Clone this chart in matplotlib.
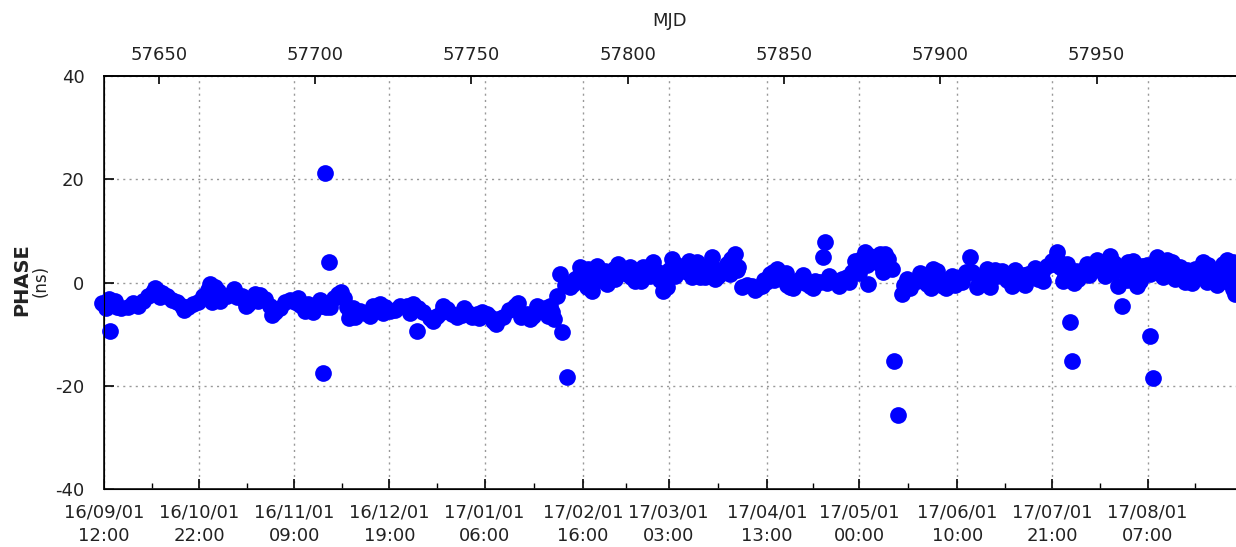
import matplotlib
matplotlib.use('Agg')
import matplotlib.pyplot as plt
import numpy as np

# MJD / phase (ns)
mjd = [57631.76, 57636.02, 57640.18, 57643.38, 57646.58, 57649.77, 57652.65, 57655.85,
       57659.37, 57662.57, 57665.77, 57668.01, 57670.25, 57673.45, 57676.65, 57678.57,
       57680.80, 57684.00, 57687.20, 57690.40, 57693.60, 57696.80, 57700.00, 57702.24,
       57704.80, 57707.45, 57709.28, 57711.19, 57714.39, 57717.59, 57720.79, 57723.99,
       57727.19, 57731.44, 57734.64, 57738.93, 57742.13, 57745.33, 57748.53, 57751.73,
       57754.92, 57757.04, 57760.24, 57763.98, 57767.72, 57771.98, 57775.17, 57775.90,
       57777.32, 57778.37, 57781.57, 57783.17, 57785.32, 57787.43, 57788.51, 57791.17,
       57794.37, 57797.02, 57799.71, 57802.37, 57805.02, 57808.22, 57811.42, 57812.51,
       57814.11, 57817.30, 57820.50, 57822.10, 57824.76, 57826.90, 57829.01, 57831.70,
       57834.36, 57836.50, 57839.70, 57842.90, 57845.55, 57847.70, 57849.81, 57851.95,
       57855.15, 57858.35, 57861.55, 57862.60, 57865.29, 57868.49, 57871.69, 57872.74,
       57875.94, 57877.00, 57879.69, 57882.34, 57884.48, 57887.68, 57889.28, 57892.48,
       57895.68, 57897.79, 57900.99, 57903.68, 57906.88, 57909.53, 57910.08, 57911.67,
       57914.87, 57918.07, 57919.67, 57922.87, 57925.53, 57928.18, 57931.38, 57934.07,
       57937.27, 57939.38, 57940.47, 57944.18, 57946.86, 57949.52, 57951.66, 57954.32,
       57956.97, 57960.18, 57962.86, 57964.46, 57967.11, 57969.26, 57971.37, 57974.05,
       57977.25, 57978.31, 57981.51, 57984.16, 57985.25, 57987.91, 57990.56, 57992.16,
       57993.76, 57993.76]
phase = [-3.93, -3.48, -4.78, -4.45, -2.52, -1.55, -2.52, -3.81,
         -4.78, -3.81, -1.41, -0.91, -2.85, -2.19, -2.52, -4.07,
         -2.13, -3.10, -5.75, -3.81, -3.81, -5.42, -4.78, -4.45,
         -4.65, -2.19, -2.90, -6.39, -5.42, -6.39, -4.12, -5.42,
         -4.45, -4.12, -5.75, -6.39, -5.09, -6.72, -5.75, -6.06,
         -6.06, -7.36, -6.72, -4.45, -6.06, -5.42, -4.45, -5.60,
         -2.52, 1.68, -0.91, 0.72, 1.68, 2.65, -1.55, 1.03,
         1.99, 3.62, 1.68, 0.39, 2.96, 3.93, -1.55, -0.91,
         4.59, 2.65, 1.03, 3.93, 1.03, 4.90, 1.36, 3.62,
         5.56, -0.91, -0.58, -0.58, 1.68, 2.65, 0.72, -0.91,
         0.72, -0.58, 0.06, 4.90, 0.39, 0.72, 1.99, 4.26,
         5.87, -0.25, 3.93, 5.56, 2.65, -2.19, 0.72, 0.39,
         -0.25, 2.65, -0.58, 1.36, 0.06, 4.90, 1.99, -0.91,
         2.65, 1.36, 2.32, -0.58, 1.03, 1.68, 0.72, 3.29,
         5.87, 0.39, 3.62, 0.72, 3.62, 3.62, 2.32, 5.23,
         -0.58, 3.93, -0.58, 3.29, 1.68, 4.90, 1.03, 3.93,
         1.36, 0.06, 2.65, 3.93, 0.06, 1.99, 3.62, 0.06,
         3.93, -1.22]

# in-between epochs
mjd2 = [57634.0, 57638.0, 57641.8, 57645.0, 57648.2, 57651.2, 57654.2, 57657.6,
        57661.0, 57664.2, 57666.9, 57669.1, 57671.8, 57675.0, 57677.6, 57679.7,
        57682.4, 57685.6, 57688.8, 57692.0, 57695.2, 57698.4, 57701.1, 57703.5,
        57706.1, 57708.4, 57710.2, 57712.8, 57716.0, 57719.2, 57722.4, 57725.6,
        57729.3, 57733.0, 57736.8, 57740.5, 57743.7, 57746.9, 57750.1, 57753.3,
        57756.0, 57758.6, 57762.1, 57765.8, 57769.8, 57773.6, 57776.6, 57780.0,
        57782.4, 57784.2, 57786.4, 57789.8, 57792.8, 57795.7, 57798.4, 57801.0,
        57803.7, 57806.6, 57809.8, 57813.2, 57815.7, 57818.9, 57821.3, 57823.4,
        57825.8, 57828.0, 57830.4, 57833.0, 57835.4, 57838.1, 57841.3, 57844.2,
        57846.6, 57848.8, 57850.9, 57853.5, 57856.8, 57860.0, 57863.9, 57866.9,
        57870.1, 57873.2, 57874.5, 57876.5, 57878.3, 57881.0, 57883.4, 57888.5,
        57890.9, 57894.1, 57896.7, 57899.4, 57902.3, 57905.3, 57908.2, 57913.3,
        57916.5, 57921.3, 57924.2, 57926.9, 57929.8, 57932.7, 57935.7, 57938.3,
        57942.9, 57945.5, 57948.2, 57950.6, 57953.0, 57955.6, 57959.1, 57961.5,
        57963.7, 57965.8, 57968.2, 57970.3, 57972.7, 57975.6, 57979.9, 57982.8,
        57986.6, 57989.2, 57991.4]
phase2 = [-3.2, -4.9, -4.0, -3.5, -1.8, -2.0, -3.4, -4.6,
          -4.2, -2.6, -0.8, -1.6, -2.6, -2.8, -3.5, -3.0,
          -2.4, -4.6, -5.0, -3.4, -4.4, -5.0, -4.2, -4.8,
          -3.0, -1.8, -4.8, -6.6, -5.8, -5.2, -4.8, -5.2,
          -4.6, -5.0, -6.8, -5.6, -6.0, -6.2, -6.6, -5.6,
          -6.6, -7.0, -5.2, -6.6, -6.4, -5.0, -7.0, -0.5,
          -0.2, 1.0, 2.2, 0.4, 2.2, 2.6, 2.6, 1.0,
          1.5, 3.0, 2.0, 2.4, 3.4, 2.0, 2.2, 2.6,
          3.0, 2.6, 2.2, 4.6, 3.0, -0.4, -1.0, 0.2,
          2.0, 1.6, -0.4, 0.0, 0.0, 0.4, 0.0, 0.4,
          1.0, 2.8, 4.5, 3.5, 4.8, 3.4, 4.6, -0.4,
          0.0, 1.2, 1.2, 1.0, 0.6, 0.8, 2.0, 1.0,
          1.8, 0.6, 0.6, 1.4, 1.4, 2.0, 4.2, 3.0,
          0.0, 2.4, 3.0, 3.0, 3.6, 3.8, 2.6, 1.6,
          2.0, 2.4, 2.0, 2.6, 2.6, 2.4, 1.6, 2.4,
          1.4, 2.6, 1.6]

# points at the upper / lower edge of the band
mjd3 = [57633.0, 57636.8, 57648.8, 57650.5, 57658.2, 57666.3, 57667.2, 57669.5,
        57674.2, 57677.8, 57681.8, 57686.3, 57694.4, 57697.6, 57699.2, 57701.6,
        57710.8, 57712.0, 57718.4, 57721.6, 57730.4, 57737.8, 57741.0, 57747.6,
        57752.6, 57758.0, 57764.8, 57768.8, 57771.0, 57774.4,
        57784.8, 57787.0, 57790.2, 57793.4, 57796.0, 57800.6, 57804.2, 57807.0,
        57810.2, 57815.2, 57819.6, 57823.0, 57827.8, 57832.6, 57835.0, 57840.6,
        57843.6, 57846.8, 57850.8, 57853.0, 57856.2, 57859.2, 57864.4, 57867.6,
        57870.8, 57874.0, 57877.6, 57880.6, 57881.6, 57883.6, 57890.2, 57893.6,
        57897.0, 57899.0, 57901.8, 57904.6, 57907.6, 57912.4, 57915.8, 57917.4,
        57920.6, 57923.8, 57927.0, 57930.2, 57933.0, 57936.0, 57938.0, 57940.0,
        57943.4, 57947.6, 57950.0, 57952.8, 57955.2, 57957.6, 57959.6, 57961.8,
        57964.0, 57966.2, 57969.8, 57972.4, 57975.0, 57976.8, 57979.0, 57980.6,
        57983.0, 57985.8, 57988.4, 57990.0, 57991.8, 57993.2, 57994.2]
phase3 = [-5.0, -4.8, -1.0, -2.8, -5.2, -0.3, -3.8, -3.6,
          -1.3, -4.6, -3.6, -6.3, -3.0, -4.2, -5.6, -3.4,
          -6.9, -5.0, -4.6, -5.8, -5.8, -7.4, -4.6, -5.0,
          -6.8, -8.0, -4.0, -7.0, -4.5, -6.5,
          3.0, -0.8, 3.2, -0.2, 0.8, 3.0, 0.4, 1.2,
          0.6, 1.2, 4.2, 1.0, 0.8, 1.6, 2.4, -1.4,
          0.6, 0.6, 1.8, -1.0, 1.4, -1.0, 1.2, -0.6,
          0.2, 1.8, 5.2, 5.6, 2.0, 3.0, -1.0, 1.8,
          -1.0, 2.2, -1.0, -0.4, 1.4, 0.4, -0.8, 2.4,
          1.0, 2.4, -0.4, 2.8, 0.4, 3.6, 4.0, 1.6,
          2.2, 1.4, 4.4, 1.2, 2.0, 2.4, 0.6, 4.2,
          0.4, 3.4, 2.6, 4.4, 0.8, 3.0, 2.4, 0.0,
          1.0, 3.4, -0.4, 0.8, 4.4, 1.2, -2.2]

# outliers
out_mjd = [57634.42, 57703.20, 57704.57, 57702.46, 57732.53, 57779.01, 57780.52,
           57863.15, 57885.32, 57886.50, 57941.52, 57942.26, 57958.06, 57967.11, 57968.17]
out_phase = [-9.29, 21.24, 4.07, -17.56, -9.43, -9.62, -18.33,
             7.94, -15.24, -25.56, -7.69, -15.24, -4.45, -10.40, -18.45]

date_ticks = [57632.5, 57662.917, 57693.375, 57723.792, 57754.25, 57785.667,
              57813.125, 57844.542, 57874.0, 57905.417, 57935.875, 57966.292]
date_labels = ['16/09/01\n12:00', '16/10/01\n22:00', '16/11/01\n09:00', '16/12/01\n19:00',
               '17/01/01\n06:00', '17/02/01\n16:00', '17/03/01\n03:00', '17/04/01\n13:00',
               '17/05/01\n00:00', '17/06/01\n10:00', '17/07/01\n21:00', '17/08/01\n07:00']
mjd_ticks = [57650, 57700, 57750, 57800, 57850, 57900, 57950]
y_ticks = [-40, -20, 0, 20, 40]

txt = '#222222'
plt.rcParams['font.family'] = 'DejaVu Sans'

fig = plt.figure(figsize=(12.36, 5.47), dpi=100)
ax = fig.add_axes([104/1236, 0.1055, 1 - 104/1236, 0.7555])

for xs, ys in [(mjd, phase), (mjd2, phase2), (mjd3, phase3), (out_mjd, out_phase)]:
    ax.scatter(xs, ys, s=145, c='#0000ff', linewidths=0, clip_on=False, zorder=3)

ax.set_xlim(57632.5, 57994.6)
ax.set_ylim(-40, 40)

ax.set_xticks(date_ticks)
ax.set_xticklabels(date_labels, fontsize=13, color=txt, linespacing=1.45)
minor = [(a + b) / 2 for a, b in zip(date_ticks[:-1], date_ticks[1:])] + [57981.5]
ax.set_xticks(minor, minor=True)
ax.set_yticks(y_ticks)
ax.set_yticklabels([str(v) for v in y_ticks], fontsize=13, color=txt)
ax.tick_params(axis='x', which='major', direction='in', length=7, width=1.2, pad=10, top=False)
ax.tick_params(axis='x', which='minor', direction='in', length=4, width=1.0, top=False)
ax.tick_params(axis='y', which='major', direction='in', length=7, width=1.2, pad=14, right=False)

ax.grid(True, which='major', color='#999999', linestyle=(0, (1.5, 3)), linewidth=1.0)
for side in ['left', 'bottom', 'top']:
    ax.spines[side].set_color('#222222')
    ax.spines[side].set_linewidth(1.3)
ax.spines['right'].set_visible(False)

top = ax.twiny()
top.set_xlim(ax.get_xlim())
top.set_xticks(mjd_ticks)
top.set_xticklabels([str(v) for v in mjd_ticks], fontsize=13, color=txt)
top.tick_params(axis='x', direction='in', length=6, width=1.2, pad=9)
top.spines['right'].set_visible(False)
top.spines['top'].set_linewidth(1.3)
top.set_xlabel('MJD', fontsize=13, color=txt, labelpad=14)

fig.text(22/1236, 1 - 280/547, 'PHASE', rotation=90, ha='center', va='center',
         fontsize=14, fontweight='bold', color=txt)
fig.text(41/1236, 1 - 281/547, '(ns)', rotation=90, ha='center', va='center',
         fontsize=12, color=txt)

fig.savefig('out.png', dpi=100)
